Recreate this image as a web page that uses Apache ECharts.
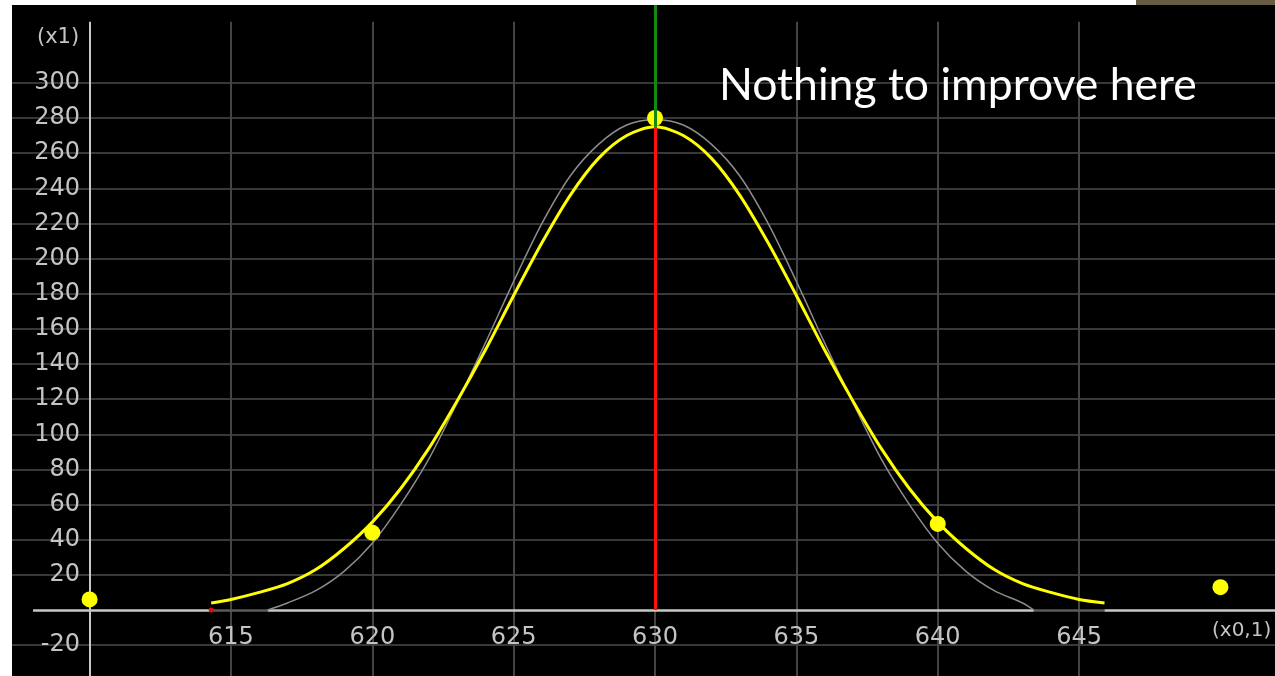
<!DOCTYPE html>
<html>
<head>
<meta charset="utf-8">
<script src="https://cdn.jsdelivr.net/npm/echarts@6/dist/echarts.min.js"></script>
<style>
  html, body { margin: 0; padding: 0; background: #000; }
  #chart { width: 1275px; height: 676px; }
</style>
</head>
<body>
<div id="chart"></div>
<script>
// ---- data ----
const xTickValues = [615, 620, 625, 630, 635, 640, 645];
const yTickValues = [-20, 20, 40, 60, 80, 100, 120, 140, 160, 180, 200, 220, 240, 260, 280, 300];
const xUnitLabel = '(x0,1)';
const yUnitLabel = '(x1)';

// fitted curve (yellow)
const fitX = [614.3, 615, 616, 617, 618, 619, 620, 621, 622, 623, 624, 625, 626, 627, 628, 629, 630,
              631, 632, 633, 634, 635, 636, 637, 638, 639, 640, 641, 642, 643, 644, 645, 645.9];
const fitY = [4, 6, 10, 15, 23, 35, 50, 69, 92, 119, 148, 179, 209, 236, 257, 270, 275,
              270, 257, 236, 209, 179, 148, 119, 92, 69, 50, 35, 23, 15, 10, 6, 4];

// reference curve (thin grey)
const refX = [616.3, 617, 618, 619, 620, 621, 622, 623, 624, 625, 626, 627, 628, 629, 630,
              631, 632, 633, 634, 635, 636, 637, 638, 639, 640, 641, 642, 643, 643.4];
const refY = [0, 4, 11, 22, 38, 60, 86, 118, 152, 187, 220, 247, 265, 276, 279,
              276, 265, 247, 220, 187, 152, 118, 86, 60, 38, 22, 11, 4, 0];

// measured points
const pointX = [610, 620, 630, 640, 650];
const pointY = [6, 44, 280, 49, 13];

// centre marker
const centerX = 630;
const centerPeak = 275;
const originX = 610;

const annotation = 'Nothing to improve here';

// ---- axis ranges (plot spans the whole black area) ----
const X_MIN = 607.255, X_MAX = 651.93;
const Y_MIN = -37.56, Y_MAX = 344.3;
const X_BASE_START = 608;     // where the zero line starts
const Y_GRID_TOP = 334.7;     // top of the vertical rules
const ZERO_LINE_OFFSET = -66; // lifts the x labels from the plot bottom to the zero line

const labelColor = '#c4c4c4';
const labelFont = 'DejaVu Sans';

function seg(x1, y1, x2, y2, color, width) {
  return { coords: [[x1, y1], [x2, y2]], lineStyle: { color: color, width: width, opacity: 1 } };
}

const gridLines = [];
yTickValues.forEach(v => gridLines.push(seg(X_MIN, v, X_MAX, v, '#383838', 2)));
xTickValues.forEach(v => gridLines.push(seg(v, Y_GRID_TOP, v, Y_MIN, '#444444', 2)));

const axisLines = [
  seg(originX, Y_GRID_TOP, originX, Y_MIN, '#c8c8c8', 2),
  seg(X_BASE_START, 0, fitX[0], 0, '#c8c8c8', 2.5),
  seg(fitX[0], 0, refX[0], 0, '#5a5a5a', 2.5),
  seg(refX[0], 0, refX[refX.length - 1], 0, '#c8c8c8', 2.5),
  seg(refX[refX.length - 1], 0, fitX[fitX.length - 1], 0, '#5a5a5a', 2.5),
  seg(fitX[fitX.length - 1], 0, X_MAX, 0, '#c8c8c8', 2.5)
];

const centerLines = [
  seg(centerX, 0, centerX, centerPeak, '#ff1010', 3),
  seg(centerX, centerPeak, centerX, Y_MAX, '#108a10', 3)
];

const chart = echarts.init(document.getElementById('chart'), null, { renderer: 'canvas' });

chart.setOption({
  animation: false,
  backgroundColor: '#000',
  grid: { left: 12, right: 0, top: 5, bottom: 0, containLabel: false, outerBoundsMode: 'none' },
  xAxis: {
    type: 'value', min: X_MIN, max: X_MAX, z: 10, position: 'bottom', offset: ZERO_LINE_OFFSET,
    axisLine: { show: false, onZero: false }, axisTick: { show: false }, splitLine: { show: false },
    axisLabel: {
      customValues: xTickValues,
      margin: 16, color: labelColor, fontFamily: labelFont, fontSize: 24
    }
  },
  yAxis: {
    type: 'value', min: Y_MIN, max: Y_MAX, z: 10,
    axisLine: { show: false, onZero: false }, axisTick: { show: false }, splitLine: { show: false },
    axisLabel: {
      customValues: yTickValues,
      margin: -68, align: 'right', color: labelColor, fontFamily: labelFont, fontSize: 24
    }
  },
  series: [
    { type: 'lines', coordinateSystem: 'cartesian2d', z: 1, silent: true, data: gridLines },
    { type: 'lines', coordinateSystem: 'cartesian2d', z: 2, silent: true, data: axisLines },
    {
      type: 'line', z: 3, smooth: 0.3, symbol: 'none',
      lineStyle: { color: '#8c8c8c', width: 1.5 },
      data: refX.map((x, i) => [x, refY[i]])
    },
    {
      type: 'line', z: 4, smooth: 0.3, symbol: 'none',
      lineStyle: { color: '#ffff00', width: 3 },
      data: fitX.map((x, i) => [x, fitY[i]])
    },
    {
      type: 'scatter', z: 5, symbolSize: 5,
      itemStyle: { color: '#e01010', opacity: 1 },
      data: [[fitX[0], 0]]
    },
    {
      type: 'scatter', z: 5, symbolSize: 16,
      itemStyle: { color: '#ffff00', opacity: 1 },
      data: pointX.map((x, i) => [x, pointY[i]])
    },
    { type: 'lines', coordinateSystem: 'cartesian2d', z: 6, silent: true, data: centerLines }
  ],
  graphic: [
    { type: 'text', left: 37, top: 27, z: 20,
      style: { text: yUnitLabel, fill: labelColor, font: '21px "DejaVu Sans"' } },
    { type: 'text', left: 1212, top: 621, z: 20,
      style: { text: xUnitLabel, fill: labelColor, font: '20px "DejaVu Sans"' } },
    { type: 'text', left: 719, top: 63, z: 20,
      style: { text: annotation, fill: '#ffffff', font: '44.5px Lato' } },
    { type: 'rect', z: 30, shape: { x: 0, y: 0, width: 12, height: 676 }, style: { fill: '#ffffff' } },
    { type: 'rect', z: 30, shape: { x: 0, y: 0, width: 1136, height: 5 }, style: { fill: '#ffffff' } },
    { type: 'rect', z: 30, shape: { x: 1136, y: 0, width: 139, height: 5 }, style: { fill: '#675d44' } }
  ]
});
</script>
</body>
</html>
